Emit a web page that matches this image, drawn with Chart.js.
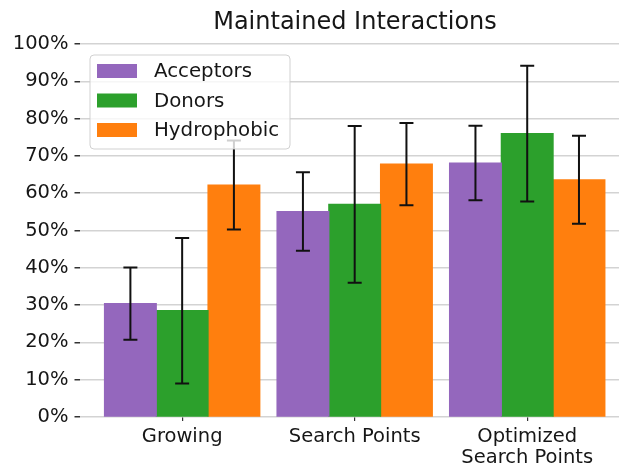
<!DOCTYPE html>
<html>
<head>
<meta charset="utf-8">
<style>
  html, body { margin: 0; padding: 0; background: #ffffff; }
  #wrap { width: 619px; height: 467px; }
</style>
<script src="https://cdn.jsdelivr.net/npm/chart.js@4"></script>
</head>
<body>
<div id="wrap"><canvas id="chart" width="619" height="467"></canvas></div>
<script>
// Category labels (position on the x axis is the array index)
const categories = ['Growing', 'Search Points', ['Optimized', 'Search Points']];

// Mean share of maintained interactions (%) and standard deviation
const acceptors = [30.4, 55.1, 68.1];
const acceptorsErr = [9.7, 10.5, 10.0];
const donors = [28.5, 57.0, 76.0];
const donorsErr = [19.5, 21.0, 18.2];
const hydrophobic = [62.2, 67.8, 63.6];
const hydrophobicErr = [11.9, 11.0, 11.8];

const yTicks = [0, 10, 20, 30, 40, 50, 60, 70, 80, 90, 100];
const titleText = 'Maintained Interactions';

const FONT = '"DejaVu Sans", sans-serif';
const TEXT = '#161616';

function points(values) {
  return values.map((v, i) => ({ x: i, y: v }));
}

// Vertical error bars with caps, centred on each bar
const errorBars = {
  id: 'errorBars',
  afterDatasetsDraw(chart) {
    const ctx = chart.ctx;
    const y = chart.scales.y;
    ctx.save();
    ctx.strokeStyle = '#111111';
    ctx.lineWidth = 2;
    chart.data.datasets.forEach((ds, di) => {
      const meta = chart.getDatasetMeta(di);
      meta.data.forEach((bar, i) => {
        const m = ds.data[i].y, e = ds.errors[i];
        const yTop = y.getPixelForValue(m + e);
        const yBot = y.getPixelForValue(m - e);
        const cx = bar.x, cap = 7;
        ctx.beginPath();
        ctx.moveTo(cx, yTop); ctx.lineTo(cx, yBot);
        ctx.moveTo(cx - cap, yTop); ctx.lineTo(cx + cap, yTop);
        ctx.moveTo(cx - cap, yBot); ctx.lineTo(cx + cap, yBot);
        ctx.stroke();
      });
    });
    ctx.restore();
  }
};

// Title and the framed legend in the upper-left corner of the plot
const overlay = {
  id: 'overlay',
  afterDraw(chart) {
    const ctx = chart.ctx;
    ctx.save();
    ctx.fillStyle = TEXT;
    ctx.font = '24px ' + FONT;
    ctx.textAlign = 'center';
    ctx.textBaseline = 'middle';
    ctx.fillText(titleText, 355, 23);

    const bx = 90, by = 55, bw = 200, bh = 94, r = 4;
    ctx.beginPath();
    ctx.roundRect(bx, by, bw, bh, r);
    ctx.fillStyle = 'rgba(255,255,255,0.8)';
    ctx.fill();
    ctx.strokeStyle = 'rgba(204,204,204,0.9)';
    ctx.lineWidth = 1;
    ctx.stroke();

    ctx.font = '19.8px ' + FONT;
    ctx.textAlign = 'left';
    chart.data.datasets.forEach((ds, i) => {
      const cy = 71 + i * 29.5;
      ctx.fillStyle = ds.backgroundColor;
      ctx.fillRect(97, cy - 7, 40, 14);
      ctx.fillStyle = TEXT;
      ctx.fillText(ds.label, 154, cy + 1);
    });
    ctx.restore();
  }
};

new Chart(document.getElementById('chart'), {
  type: 'bar',
  data: {
    datasets: [
      { label: 'Acceptors', data: points(acceptors), errors: acceptorsErr, backgroundColor: '#9467bd' },
      { label: 'Donors', data: points(donors), errors: donorsErr, backgroundColor: '#2ca02c' },
      { label: 'Hydrophobic', data: points(hydrophobic), errors: hydrophobicErr, backgroundColor: '#ff7f0e' }
    ]
  },
  options: {
    responsive: false,
    animation: false,
    devicePixelRatio: 1,
    categoryPercentage: 0.9,
    barPercentage: 1.0,
    inflateAmount: 0.6,
    borderWidth: 0,
    layout: { padding: { top: 44, left: 0, right: 0, bottom: 0 } },
    plugins: {
      legend: { display: false },
      title: { display: false },
      tooltip: { enabled: false }
    },
    scales: {
      x: {
        type: 'linear',
        offset: false,
        min: -0.595,
        max: 2.532,
        afterBuildTicks(scale) {
          scale.ticks = categories.map((c, i) => ({ value: i }));
        },
        afterFit(scale) { scale.height = 50; },
        grid: {
          offset: false,
          drawOnChartArea: false,
          drawTicks: true,
          tickLength: 4,
          tickColor: '#333333',
          lineWidth: 1.2
        },
        border: { display: false },
        ticks: {
          autoSkip: false,
          maxRotation: 0,
          padding: 5,
          color: TEXT,
          font: { family: FONT, size: 19.5, lineHeight: 1.1 },
          callback: (v) => categories[v]
        }
      },
      y: {
        min: 0,
        max: 100,
        afterBuildTicks(scale) {
          scale.ticks = yTicks.map(v => ({ value: v }));
        },
        afterFit(scale) { scale.width = 79.5; },
        grid: {
          color: '#d3d3d3',
          lineWidth: 1.5,
          drawTicks: true,
          tickLength: 5,
          tickColor: '#333333'
        },
        border: { display: false },
        ticks: {
          padding: 6,
          color: TEXT,
          font: { family: FONT, size: 19.5 },
          callback: (v) => v + '%'
        }
      }
    }
  },
  plugins: [errorBars, overlay]
});
</script>
</body>
</html>
